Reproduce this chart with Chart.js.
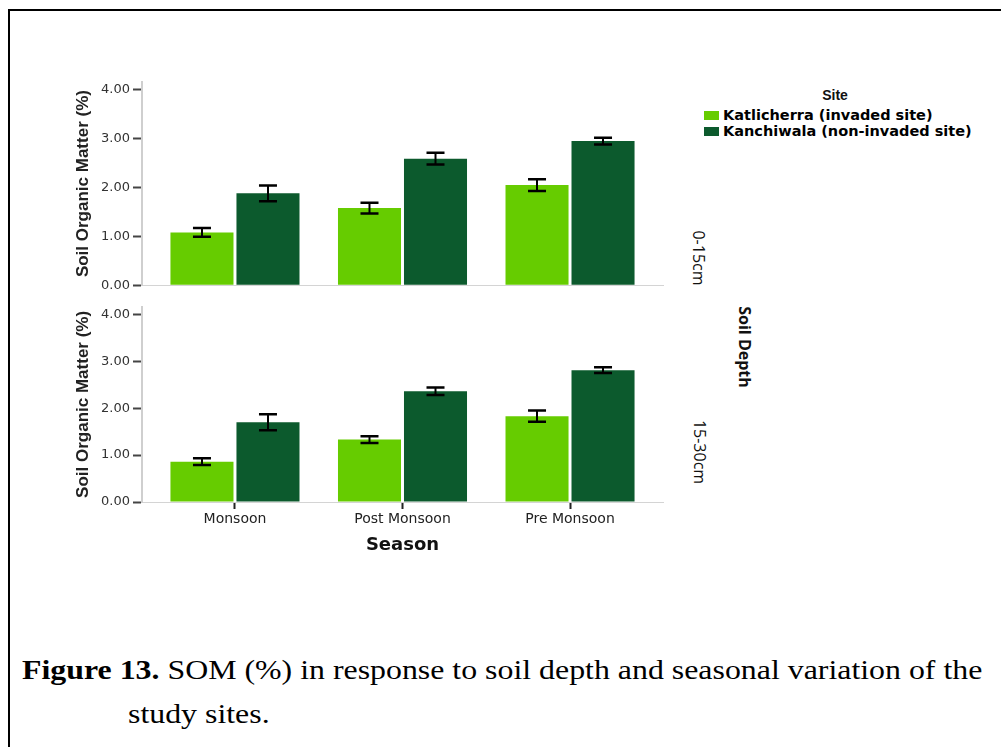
<!DOCTYPE html>
<html>
<head>
<meta charset="utf-8">
<script src="https://cdn.jsdelivr.net/npm/chart.js@4.4.1/dist/chart.umd.min.js"></script>
<style>
  body { margin: 0; background: #fff; }
  #page { position: relative; width: 1001px; height: 747px; overflow: hidden; background: #fff; }
  .frame { position: absolute; left: 8px; top: 9px; width: 1100px; height: 800px; border-left: 2px solid #000; border-top: 2px solid #000; }
  canvas { position: absolute; left: 0; }
  .abs { position: absolute; white-space: nowrap; }
  .side { position: absolute; writing-mode: vertical-rl; transform: translate(-50%, -50%); white-space: nowrap;
          font-family: "Open Sans", "DejaVu Sans", sans-serif; font-size: 16px; color: #111; }
  .legend-title { font-family: "Liberation Sans", Arial, sans-serif; font-weight: bold; font-size: 14px; color: #111; transform: translate(-50%, -50%); }
  .legend-item { font-family: "DejaVu Sans", sans-serif; font-weight: bold; font-size: 14.5px; color: #000; line-height: 15px; }
  .swatch { position: absolute; width: 15px; height: 9px; }
  .caption { font-family: "Liberation Serif", "Times New Roman", serif; font-size: 27px; line-height: 27px; color: #000;
             transform: scaleX(1.18); transform-origin: left top; }
</style>
</head>
<body>
<div id="page">
  <div class="frame"></div>
  <canvas id="topChart" width="672" height="296" style="top:0px"></canvas>
  <canvas id="bottomChart" width="672" height="264" style="top:296px"></canvas>
  <div id="legend"></div>
  <div id="sideLabels"></div>
  <div class="abs caption" style="left:22px; top:657px;"><b>Figure 13.</b> SOM (%) in response to soil depth and seasonal variation of the</div>
  <div class="abs caption" style="left:128px; top:701px;">study sites.</div>
</div>
<script>
const seasons = ["Monsoon", "Post Monsoon", "Pre Monsoon"];
const sites = ["Katlicherra (invaded site)", "Kanchiwala (non-invaded site)"];
const siteColors = ["#66cc00", "#0c5a2d"];
const depths = ["0-15cm", "15-30cm"];
const yTicks = [0, 1, 2, 3, 4];

// SOM (%) means and error half-widths, 0-15cm
const katliTop = [1.08, 1.58, 2.05];
const katliTopErr = [0.09, 0.11, 0.12];
const kanchiTop = [1.88, 2.59, 2.95];
const kanchiTopErr = [0.16, 0.12, 0.07];

// 15-30cm
const katliBottom = [0.86, 1.33, 1.83];
const katliBottomErr = [0.07, 0.07, 0.12];
const kanchiBottom = [1.70, 2.36, 2.81];
const kanchiBottomErr = [0.17, 0.08, 0.06];

// whiskers with caps, drawn over the bars
const errorBars = {
  id: "errorBars",
  afterDatasetsDraw(chart) {
    const ctx = chart.ctx;
    const yScale = chart.scales.y;
    ctx.save();
    ctx.strokeStyle = "#000";
    chart.data.datasets.forEach((ds, i) => {
      chart.getDatasetMeta(i).data.forEach((bar, j) => {
        const v = ds.data[j].y;
        const e = ds.errors[j];
        const top = yScale.getPixelForValue(v + e);
        const bot = yScale.getPixelForValue(v - e);
        ctx.lineWidth = 2;
        ctx.beginPath();
        ctx.moveTo(bar.x, top);
        ctx.lineTo(bar.x, bot);
        ctx.stroke();
        ctx.lineWidth = 2.5;
        ctx.beginPath();
        ctx.moveTo(bar.x - 9, top);
        ctx.lineTo(bar.x + 9, top);
        ctx.moveTo(bar.x - 9, bot);
        ctx.lineTo(bar.x + 9, bot);
        ctx.stroke();
      });
    });
    ctx.restore();
  }
};

function toPoints(values) {
  return values.map((v, i) => ({ x: i, y: v }));
}

function makePanel(id, series, errors, showX, padTop, xHeight) {
  return new Chart(document.getElementById(id), {
    type: "bar",
    data: {
      datasets: series.map((values, k) => ({
        label: sites[k],
        data: toPoints(values),
        errors: errors[k],
        backgroundColor: siteColors[k],
        borderWidth: 0,
        categoryPercentage: 0.788,
        barPercentage: 0.955
      }))
    },
    options: {
      responsive: false,
      animation: false,
      devicePixelRatio: 1,
      layout: { padding: { top: padTop, right: 9, left: 0, bottom: 0 } },
      plugins: { legend: { display: false }, tooltip: { enabled: false } },
      scales: {
        x: {
          type: "linear",
          offset: false,
          min: -0.555,
          max: 2.555,
          afterBuildTicks: s => { s.ticks = seasons.map((_, i) => ({ value: i })); },
          afterFit: s => { s.height = xHeight; },
          ticks: {
            display: showX,
            autoSkip: false,
            maxRotation: 0,
            padding: 2,
            color: "#222",
            font: { family: "DejaVu Sans", size: 14 },
            callback: v => seasons[v]
          },
          grid: { display: showX, offset: false, drawOnChartArea: false, tickLength: 7, tickColor: "#222", tickWidth: 2 },
          border: { color: "#d4d4d4", width: 1 },
          title: {
            display: showX,
            text: "Season",
            color: "#111",
            font: { family: "DejaVu Sans", weight: "bold", size: 18 },
            padding: { top: 0, bottom: 4 }
          }
        },
        y: {
          min: 0,
          max: 4.16,
          afterBuildTicks: s => { s.ticks = yTicks.map(v => ({ value: v })); },
          afterFit: s => { s.width = 142; },
          ticks: {
            padding: 3,
            color: "#333",
            font: { family: "DejaVu Sans", size: 13 },
            callback: v => v.toFixed(2)
          },
          grid: { drawOnChartArea: false, tickLength: 9, tickColor: "#444", tickWidth: 2 },
          border: { color: "#cfcfcf", width: 2 },
          title: {
            display: true,
            text: "Soil Organic Matter (%)",
            color: "#222",
            font: { family: "Liberation Sans", weight: "bold", size: 17 },
            padding: { top: 73, bottom: 0 }
          }
        }
      }
    },
    plugins: [errorBars]
  });
}

makePanel("topChart", [katliTop, kanchiTop], [katliTopErr, kanchiTopErr], false, 82, 7);
makePanel("bottomChart", [katliBottom, kanchiBottom], [katliBottomErr, kanchiBottomErr], true, 1, 58);

// legend block
const legend = document.getElementById("legend");
legend.innerHTML = `<div class="abs legend-title" style="left:835px; top:95px;">Site</div>` +
  sites.map((s, k) => `
    <div class="swatch" style="left:704px; top:${111 + k * 15.5}px; background:${siteColors[k]}"></div>
    <div class="abs legend-item" style="left:723px; top:${108 + k * 15.5}px;">${s}</div>`).join("");

// panel labels on the right
const side = document.getElementById("sideLabels");
side.innerHTML =
  `<div class="side" style="left:699px; top:258px;">${depths[0]}</div>` +
  `<div class="side" style="left:700px; top:452px;">${depths[1]}</div>` +
  `<div class="side" style="left:745px; top:347px; font-weight:bold; font-size:16px;">Soil Depth</div>`;
</script>
</body>
</html>
